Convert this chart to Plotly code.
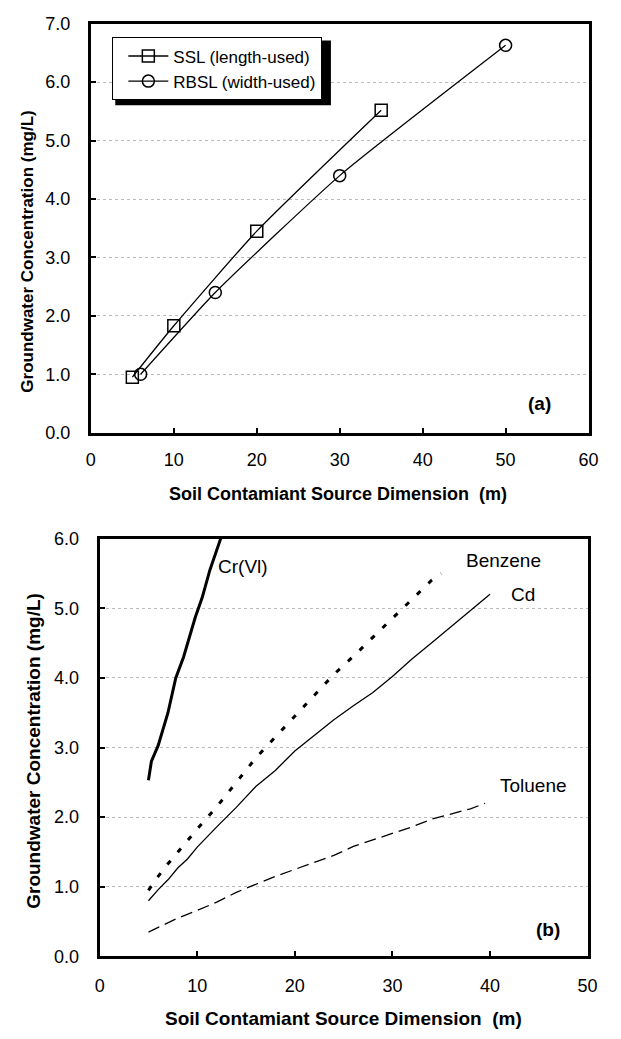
import plotly.graph_objects as go

W, H = 621, 1039
FONT = "Liberation Sans, Arial, sans-serif"

# ---------------- Panel (a) data ----------------
ssl_x = [5, 10, 20, 35]
ssl_y = [0.95, 1.83, 3.45, 5.52]
rbsl_x = [6, 15, 30, 50]
rbsl_y = [1.0, 2.4, 4.4, 6.63]

# ---------------- Panel (b) data ----------------
cr_x = [5, 5.3, 6, 7, 7.8, 8.6, 9.8, 10.5, 11.3, 12.4]
cr_y = [2.53, 2.8, 3.03, 3.5, 4.0, 4.3, 4.87, 5.15, 5.55, 6.0]

benz_x = [5, 6, 7, 8, 9, 10, 12, 14, 16, 18, 20, 22, 24, 26, 28, 30, 32, 34, 35]
benz_y = [0.95, 1.15, 1.33, 1.5, 1.67, 1.83, 2.15, 2.5, 2.85, 3.15, 3.45, 3.75,
          4.05, 4.31, 4.58, 4.86, 5.12, 5.4, 5.5]

cd_x = [5, 6, 7, 8, 9, 10, 12, 14, 16, 18, 20, 22, 24, 26, 28, 30, 32, 34, 36, 38, 40]
cd_y = [0.8, 0.96, 1.1, 1.27, 1.4, 1.57, 1.86, 2.14, 2.44, 2.67, 2.95, 3.18, 3.4,
        3.6, 3.79, 4.02, 4.27, 4.5, 4.73, 4.97, 5.2]

tol_x = [5, 6, 8, 10, 12, 14, 16, 18, 20, 22, 24, 26, 28, 30, 32, 34, 36, 38, 39.5]
tol_y = [0.35, 0.42, 0.55, 0.66, 0.78, 0.92, 1.04, 1.15, 1.25, 1.35, 1.45, 1.58,
         1.67, 1.76, 1.86, 1.97, 2.05, 2.12, 2.2]

y_ticks_a = [0, 1, 2, 3, 4, 5, 6, 7]
y_ticks_b = [0, 1, 2, 3, 4, 5, 6]
x_ticks_a = [0, 10, 20, 30, 40, 50, 60]
x_ticks_b = [0, 10, 20, 30, 40, 50]

fig = go.Figure()

fig.add_trace(go.Scatter(
    x=ssl_x, y=ssl_y, name="SSL (length-used)", mode="lines+markers",
    line=dict(color="black", width=1.3, shape="spline", smoothing=0.5),
    marker=dict(symbol="square-open", size=12, color="black", line=dict(width=1.5)),
    xaxis="x", yaxis="y"))
fig.add_trace(go.Scatter(
    x=rbsl_x, y=rbsl_y, name="RBSL (width-used)", mode="lines+markers",
    line=dict(color="black", width=1.3, shape="spline", smoothing=0.5),
    marker=dict(symbol="circle-open", size=12, color="black", line=dict(width=1.5)),
    xaxis="x", yaxis="y"))

fig.add_trace(go.Scatter(x=cr_x, y=cr_y, mode="lines", name="Cr(VI)", showlegend=False,
                         line=dict(color="black", width=3), xaxis="x2", yaxis="y2"))
fig.add_trace(go.Scatter(x=benz_x, y=benz_y, mode="lines", name="Benzene", showlegend=False,
                         line=dict(color="black", width=3, dash="5px,11px"), xaxis="x2", yaxis="y2"))
fig.add_trace(go.Scatter(x=cd_x, y=cd_y, mode="lines", name="Cd", showlegend=False,
                         line=dict(color="black", width=1.3), xaxis="x2", yaxis="y2"))
fig.add_trace(go.Scatter(x=tol_x, y=tol_y, mode="lines", name="Toluene", showlegend=False,
                         line=dict(color="black", width=1.3, dash="12px,6px"), xaxis="x2", yaxis="y2"))

axis_common = dict(showline=True, linecolor="black", linewidth=3, mirror=True,
                   ticks="inside", ticklen=5, tickwidth=2, tickcolor="black",
                   tickfont=dict(family=FONT, size=18, color="black"), zeroline=False)

fig.update_layout(
    width=W, height=H, margin=dict(l=0, r=0, t=0, b=0),
    paper_bgcolor="white", plot_bgcolor="white",
    font=dict(family=FONT, color="black"),
    xaxis=dict(domain=[88 / W, 598 / W], range=[0, 60], tickvals=x_ticks_a,
               showgrid=False, anchor="y", ticklabelstandoff=9, **axis_common),
    yaxis=dict(domain=[1 - 431 / H, 1 - 14 / H], range=[0, 7], tickvals=y_ticks_a,
               tickformat=".1f", showgrid=True, gridcolor="#bbbbbb", griddash="dot",
               gridwidth=1, anchor="x", ticklabelstandoff=14, **axis_common),
    xaxis2=dict(domain=[97 / W, 597 / W], range=[0, 50], tickvals=x_ticks_b,
                showgrid=False, anchor="y2", ticklabelstandoff=11, **axis_common),
    yaxis2=dict(domain=[1 - 965 / H, 1 - 539 / H], range=[0, 6], tickvals=y_ticks_b,
                tickformat=".1f", showgrid=True, gridcolor="#bbbbbb", griddash="dot",
                gridwidth=1, anchor="x2", ticklabelstandoff=14, **axis_common),
    legend=dict(x=110 / W, y=1 - 28 / H, xanchor="left", yanchor="top",
                bordercolor="black", borderwidth=1, bgcolor="white",
                font=dict(family=FONT, size=17, color="black"),
                itemwidth=40, indentation=10, tracegroupgap=0),
    showlegend=True,
)

# legend drop shadow
fig.add_shape(type="rect", xref="paper", yref="paper",
              x0=113 / W, x1=334 / W, y0=1 - 97 / H, y1=1 - 31 / H,
              fillcolor="black", line=dict(width=0), layer="above")

ann = [
    dict(text="<b>Soil Contamiant Source Dimension  (m)</b>", x=341 / W, y=1 - 493 / H,
         xref="paper", yref="paper", font=dict(family=FONT, size=18, color="black")),
    dict(text="<b>Groundwater Concentration (mg/L)</b>", x=23 / W, y=1 - 246 / H,
         xref="paper", yref="paper", textangle=-90,
         font=dict(family=FONT, size=17, color="black")),
    dict(text="<b>Soil Contamiant Source Dimension  (m)</b>", x=347 / W, y=1 - 1028 / H,
         xref="paper", yref="paper", font=dict(family=FONT, size=19, color="black")),
    dict(text="<b>Groundwater Concentration (mg/L)</b>", x=29 / W, y=1 - 755 / H,
         xref="paper", yref="paper", textangle=-90,
         font=dict(family=FONT, size=19, color="black")),
    dict(text="<b>(a)</b>", x=54.1, y=0.5, xref="x", yref="y",
         font=dict(family=FONT, size=19, color="black")),
    dict(text="<b>(b)</b>", x=45.9, y=0.39, xref="x2", yref="y2",
         font=dict(family=FONT, size=19, color="black")),
    dict(text="Cr(Vl)", x=11.9, y=5.6, xref="x2", yref="y2", xanchor="left",
         font=dict(family=FONT, size=19, color="black")),
    dict(text="Benzene", x=37.3, y=5.69, xref="x2", yref="y2", xanchor="left",
         font=dict(family=FONT, size=19, color="black")),
    dict(text="Cd", x=41.9, y=5.2, xref="x2", yref="y2", xanchor="left",
         font=dict(family=FONT, size=19, color="black")),
    dict(text="Toluene", x=40.8, y=2.46, xref="x2", yref="y2", xanchor="left",
         font=dict(family=FONT, size=19, color="black")),
]
for a in ann:
    a["showarrow"] = False
    a.setdefault("xanchor", "center")
    a["yanchor"] = "middle"
    fig.add_annotation(**a)

fig.write_html("out.html")
